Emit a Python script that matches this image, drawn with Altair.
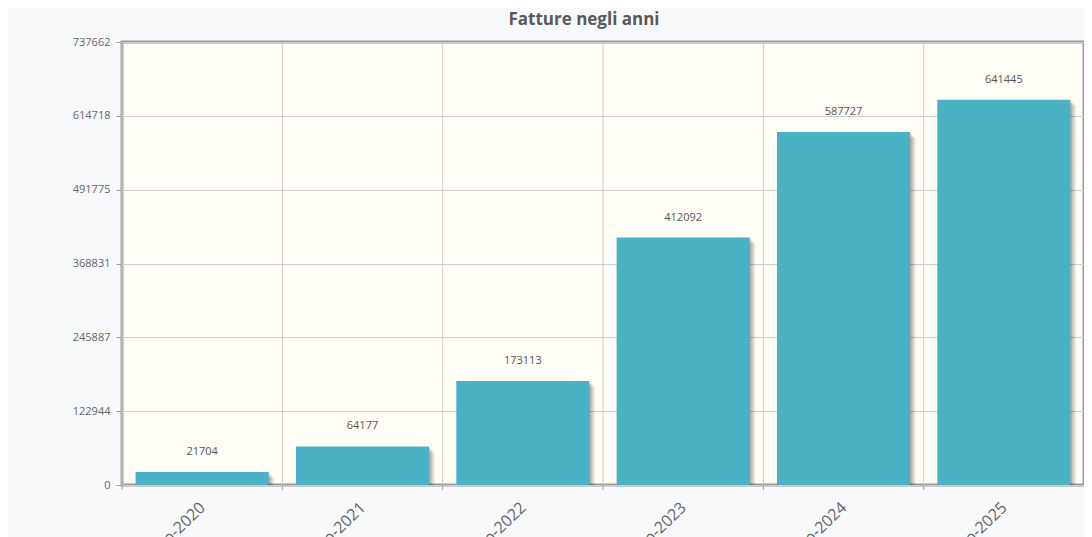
import altair as alt
import pandas as pd

categories = ["Anno-2020", "Anno-2021", "Anno-2022", "Anno-2023", "Anno-2024", "Anno-2025"]
values = [21704, 64177, 173113, 412092, 587727, 641445]
y_ticks = [0, 122944, 245887, 368831, 491775, 614718, 737662]

df = pd.DataFrame({"cat": categories, "val": values})

W, H = 962, 443
FONT = "Open Sans"
P_IN, P_OUT = 0.17, 0.085
STEP = W / (len(categories) - P_IN + 2 * P_OUT)
GRID_SHIFT = -P_OUT * STEP

xscale = alt.Scale(domain=categories, paddingInner=P_IN, paddingOuter=P_OUT)
yscale = alt.Scale(domain=[0, 737662], nice=False, zero=True)

xaxis = alt.Axis(labelAngle=-44, labelAlign="right", labelBaseline="top",
                 labelFontSize=16, labelColor="#666666", labelFont=FONT,
                 labelPadding=14, labelOffset=-5, ticks=False, domain=False, grid=False)
yaxis = alt.Axis(values=y_ticks, labelFontSize=11, labelColor="#666666", labelFont=FONT,
                 tickColor="#999999", tickSize=6, labelPadding=6,
                 gridColor="#cccccc", domain=False, format="d", labelFlush=False)

X = alt.X("cat:N", scale=xscale, title=None, axis=xaxis)
Y = alt.Y("val:Q", scale=yscale, title=None, axis=yaxis)

base = alt.Chart(df)

vgrid = base.mark_rule(color="#cccccc", strokeWidth=1, xOffset=GRID_SHIFT).encode(
    x=alt.X("cat:N", scale=xscale, title=None, axis=xaxis, bandPosition=0),
    y=alt.value(0), y2=alt.value(H),
)
xticks = base.mark_rule(color="#999999", strokeWidth=1, clip=False, xOffset=GRID_SHIFT).encode(
    x=alt.X("cat:N", scale=xscale, title=None, axis=xaxis, bandPosition=0),
    y=alt.value(H), y2=alt.value(H + 5),
)

shadows = []
for off, op in [(6, 0.06), (4.5, 0.08), (3, 0.1), (1.5, 0.12)]:
    shadows.append(
        base.mark_bar(color="#000000", opacity=op, xOffset=off, yOffset=off, clip=True).encode(
            x=X, y=Y,
        )
    )

bars = base.mark_bar(color="#4bb2c5").encode(x=X, y=Y)

labels = base.mark_text(dy=-20, fontSize=11, color="#555555", font=FONT, baseline="middle").encode(
    x=X, y=Y,
    text=alt.Text("val:Q", format="d"),
)

chart = alt.layer(vgrid, xticks, *shadows, bars, labels).properties(
    width=W, height=H,
    background="#f8f9fa",
    padding={"left": 114, "top": 34, "right": 0, "bottom": 60},
    autosize=alt.AutoSizeParams(type="none"),
    title=alt.TitleParams("Fatture negli anni", fontSize=17, font=FONT, fontWeight="bold",
                          color="#5a5a5a", offset=7, dx=-19, anchor="middle"),
).configure_view(
    fill="#fffdf6", stroke="#9a9a9a", strokeWidth=3
)

chart.save("out.html", embed_options={"renderer": "svg", "actions": False})
